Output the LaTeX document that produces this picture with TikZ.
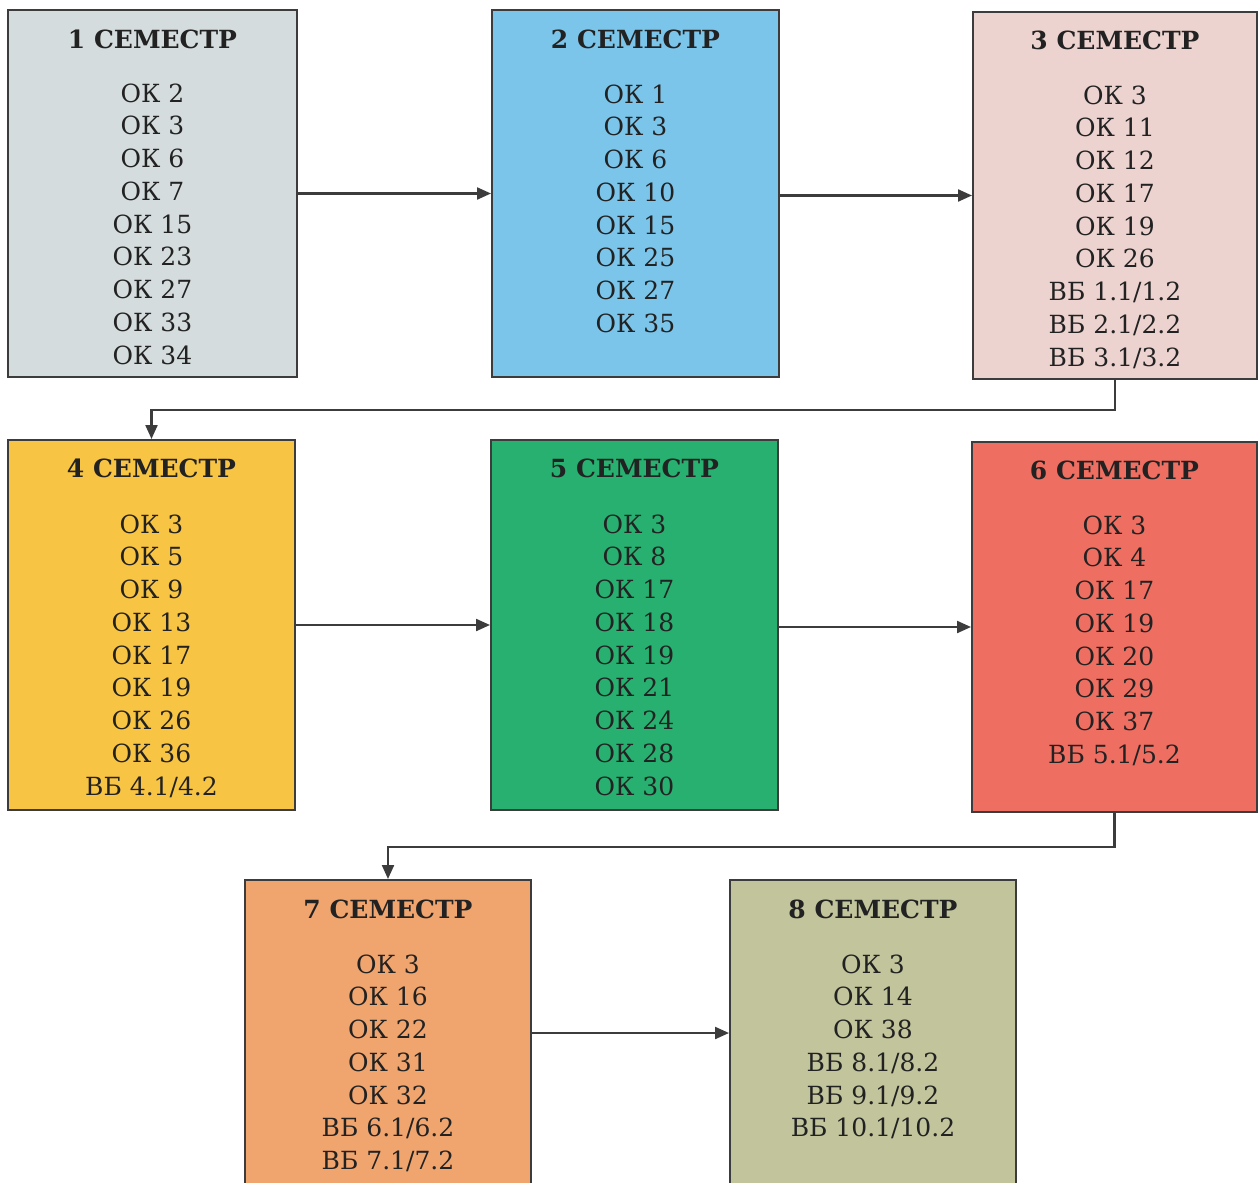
\documentclass[tikz,border=0pt]{standalone}
\usepackage{fontspec}
\setmainfont{DejaVu Serif}
\usetikzlibrary{arrows.meta}
\definecolor{cA}{HTML}{D5DCDD}
\definecolor{cB}{HTML}{7CC5EA}
\definecolor{cC}{HTML}{EDD3D0}
\definecolor{cD}{HTML}{F8C443}
\definecolor{cE}{HTML}{27B070}
\definecolor{cF}{HTML}{EE6E62}
\definecolor{cG}{HTML}{F0A46E}
\definecolor{cH}{HTML}{C2C49C}
\definecolor{ink}{HTML}{222222}
\definecolor{edge}{HTML}{3C3C3C}
\tikzset{
  sembox/.style={draw=edge, line width=2pt, inner sep=0pt},
  semtitle/.style={anchor=base, inner sep=0pt, text=ink, font=\fontsize{25}{30}\selectfont\bfseries},
  semitem/.style={anchor=base, inner sep=0pt, text=ink, font=\fontsize{25}{30}\selectfont},
  conn/.style={draw=edge, line width=2.2pt, -{Triangle[length=14pt,width=12pt]}}
}
\begin{document}
\begin{tikzpicture}[x=1pt,y=-1pt]
\useasboundingbox (0,0) rectangle (1258,1183);
% boxes
\node[sembox, fill=cA, minimum width=289pt, minimum height=367pt] (b1) at (152.5,193.5) {};
\node[sembox, fill=cB, minimum width=287pt, minimum height=367pt] (b2) at (635.5,193.5) {};
\node[sembox, fill=cC, minimum width=284pt, minimum height=367pt] (b3) at (1115,195.5) {};
\node[sembox, fill=cD, minimum width=287pt, minimum height=370pt] (b4) at (151.5,625) {};
\node[sembox, fill=cE, minimum width=287pt, minimum height=370pt] (b5) at (634.5,625) {};
\node[sembox, fill=cF, minimum width=285pt, minimum height=370pt] (b6) at (1114.5,627) {};
\node[sembox, fill=cG, minimum width=286pt, minimum height=320pt] (b7) at (388,1040) {};
\node[sembox, fill=cH, minimum width=286pt, minimum height=320pt] (b8) at (873,1040) {};
% titles
\node[semtitle] (t1) at (152.5,48) {1 СЕМЕСТР};
\node[semtitle] (t2) at (635.5,48) {2 СЕМЕСТР};
\node[semtitle] (t3) at (1115,49) {3 СЕМЕСТР};
\node[semtitle] (t4) at (151.5,477) {4 СЕМЕСТР};
\node[semtitle] (t5) at (634.5,477) {5 СЕМЕСТР};
\node[semtitle] (t6) at (1114.5,479) {6 СЕМЕСТР};
\node[semtitle] (t7) at (388,918) {7 СЕМЕСТР};
\node[semtitle] (t8) at (873,918) {8 СЕМЕСТР};
% items
\foreach \s [count=\i] in {ОК 2,ОК 3,ОК 6,ОК 7,ОК 15,ОК 23,ОК 27,ОК 33,ОК 34}
  \node[semitem] (pa\i) at (152.5,{102+32.75*(\i-1)}) {\s};
\foreach \s [count=\i] in {ОК 1,ОК 3,ОК 6,ОК 10,ОК 15,ОК 25,ОК 27,ОК 35}
  \node[semitem] (pb\i) at (635.5,{103+32.75*(\i-1)}) {\s};
\foreach \s [count=\i] in {ОК 3,ОК 11,ОК 12,ОК 17,ОК 19,ОК 26,ВБ 1.1/1.2,ВБ 2.1/2.2,ВБ 3.1/3.2}
  \node[semitem] (pc\i) at (1115,{104+32.75*(\i-1)}) {\s};
\foreach \s [count=\i] in {ОК 3,ОК 5,ОК 9,ОК 13,ОК 17,ОК 19,ОК 26,ОК 36,ВБ 4.1/4.2}
  \node[semitem] (pd\i) at (151.5,{533+32.75*(\i-1)}) {\s};
\foreach \s [count=\i] in {ОК 3,ОК 8,ОК 17,ОК 18,ОК 19,ОК 21,ОК 24,ОК 28,ОК 30}
  \node[semitem] (pe\i) at (634.5,{533+32.75*(\i-1)}) {\s};
\foreach \s [count=\i] in {ОК 3,ОК 4,ОК 17,ОК 19,ОК 20,ОК 29,ОК 37,ВБ 5.1/5.2}
  \node[semitem] (pf\i) at (1114.5,{534+32.75*(\i-1)}) {\s};
\foreach \s [count=\i] in {ОК 3,ОК 16,ОК 22,ОК 31,ОК 32,ВБ 6.1/6.2,ВБ 7.1/7.2}
  \node[semitem] (pg\i) at (388,{973+32.75*(\i-1)}) {\s};
\foreach \s [count=\i] in {ОК 3,ОК 14,ОК 38,ВБ 8.1/8.2,ВБ 9.1/9.2,ВБ 10.1/10.2}
  \node[semitem] (ph\i) at (873,{973+32.75*(\i-1)}) {\s};
% connectors
\draw[conn] (b1.east) -- (b2.west);
\draw[conn] (b2.east |- b3.west) -- (b3.west);
\draw[conn] (b3.south) -- ++(0,30) -| (b4.north);
\draw[conn] (b4.east) -- (b5.west);
\draw[conn] (b5.east |- b6.west) -- (b6.west);
\draw[conn] (b6.south) -- ++(0,34) -| (b7.north);
\coordinate (a7) at (531,1033);
\draw[conn] (a7) -- (b8.west |- a7);
\end{tikzpicture}
\end{document}
